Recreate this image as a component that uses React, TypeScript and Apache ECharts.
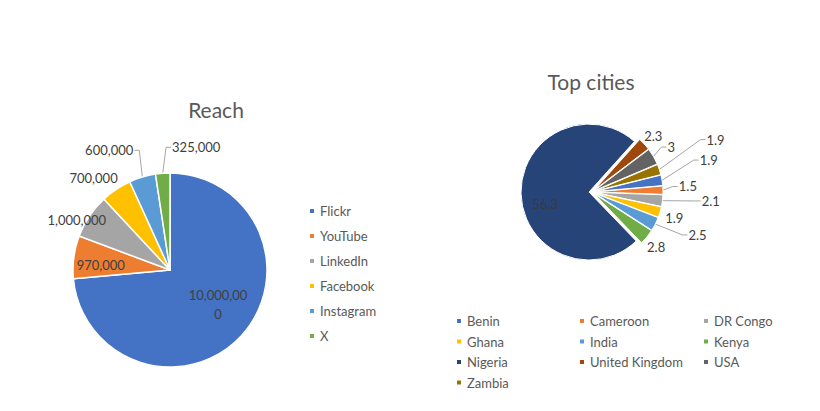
import React, { useEffect, useRef } from "react";
import * as echarts from "echarts";

const reachNames = ["Flickr", "YouTube", "LinkedIn", "Facebook", "Instagram", "X"];
const reachValues = [10000000, 970000, 1000000, 700000, 600000, 325000];
const reachColors = ["#4472C4", "#ED7D31", "#A5A5A5", "#FFC000", "#5B9BD5", "#70AD47"];

const cityNames = ["Benin", "Cameroon", "DR Congo", "Ghana", "India", "Kenya", "Nigeria", "United Kingdom", "USA", "Zambia"];
const cityValues = [1.9, 1.5, 2.1, 1.9, 2.5, 2.8, 56.3, 2.3, 3, 1.9];
const cityColors = ["#4472C4", "#ED7D31", "#A5A5A5", "#FFC000", "#5B9BD5", "#70AD47", "#264478", "#9E480E", "#636363", "#997300"];

const legendCol1 = ["Benin", "Ghana", "Nigeria", "Zambia"];
const legendCol2 = ["Cameroon", "India", "United Kingdom"];
const legendCol3 = ["DR Congo", "Kenya", "USA"];

// label nudges (Excel "best fit" placement) relative to ECharts' default positions
const reachNudge = [[10, 0], [61, 9], [26, 7], [25, -19], [22, -32], [67, -20]];
const reachLine = [false, false, false, false, true, true];
const cityNudge = [[23, -25], [2, -14], [26, -15], [-8, -13], [19, -12], [-17, -15], [-7, 11], [-17, -3], [-2, -7], [32, -30]];
const cityLine = [true, true, true, false, true, false, false, false, true, true];

const FONT = "Lato, 'Open Sans', sans-serif";
const TXT = "#595959";
const LBL = "#404040";

const fmt = (v: number) => v.toLocaleString("en-US");
const wrap = (s: string, n: number) => (s.length > n ? s.slice(0, n) + "\n" + s.slice(n) : s);

const makeLayout = (nudge: number[][]) => (p: any) => {
  const [dx, dy] = nudge[p.dataIndex];
  const out: any = { dx, dy };
  const pts = p.labelLinePoints;
  const r = p.labelRect;
  if (pts && pts.length && r) {
    const a = pts[0];
    const nx = r.x + dx;
    const ny = r.y + dy;
    const cy = ny + r.height / 2;
    const toRight = nx + r.width / 2 > a[0];
    const end = toRight ? [nx - 1, cy] : [nx + r.width + 1, cy];
    const mid = toRight ? [end[0] - 5, cy] : [end[0] + 5, cy];
    out.labelLinePoints = [a, mid, end];
  }
  return out;
};

export default function App() {
  const ref = useRef<HTMLDivElement>(null);
  useEffect(() => {
    if (!ref.current) return;
    const chart = echarts.init(ref.current, undefined, { renderer: "svg" });
    const legendBase = {
      orient: "vertical" as const,
      icon: "rect",
      itemWidth: 6,
      itemHeight: 6,
      selectedMode: false,
      textStyle: { fontFamily: FONT, fontSize: 13, color: TXT, lineHeight: 14 },
    };
    chart.setOption({
      animation: false,
      backgroundColor: "#ffffff",
      title: [
        { text: "Reach", left: 211, top: 94, textAlign: "center", textStyle: { fontFamily: FONT, fontSize: 21, fontWeight: "normal", color: TXT } },
        { text: "Top cities", left: 586, top: 66, textAlign: "center", textStyle: { fontFamily: FONT, fontSize: 21, fontWeight: "normal", color: TXT } },
      ],
      legend: [
        { ...legendBase, left: 303, top: 199, itemGap: 11, data: reachNames },
        { ...legendBase, left: 450, top: 309, itemGap: 6.5, data: legendCol1 },
        { ...legendBase, left: 573, top: 309, itemGap: 6.5, data: legendCol2 },
        { ...legendBase, left: 697, top: 309, itemGap: 6.5, data: legendCol3 },
      ],
      series: [
        {
          type: "pie",
          center: [170, 270],
          radius: 97,
          startAngle: 90,
          clockwise: true,
          itemStyle: { borderColor: "#fff", borderWidth: 1.5 },
          label: {
            show: true,
            position: "outside",
            fontFamily: FONT,
            fontSize: 13,
            color: LBL,
            formatter: (p: any) => fmt(p.value),
          },
          labelLine: { show: true, length: 6, length2: 4, lineStyle: { color: "#A6A6A6", width: 1 } },
          labelLayout: makeLayout(reachNudge),
          data: reachNames.map((n, i) => ({
            name: n,
            value: reachValues[i],
            itemStyle: { color: reachColors[i] },
            labelLine: { show: reachLine[i] },
            ...(i === 0
              ? { label: { position: "inside", formatter: (p: any) => wrap(fmt(p.value), 9), align: "center", lineHeight: 19 } }
              : {}),
          })),
        },
        {
          type: "pie",
          center: [592, 192],
          radius: 68,
          startAngle: 14,
          clockwise: true,
          selectedMode: "multiple",
          selectedOffset: 3,
          itemStyle: { borderColor: "#fff", borderWidth: 1 },
          label: {
            show: true,
            position: "outside",
            fontFamily: FONT,
            fontSize: 13,
            color: LBL,
            formatter: (p: any) => String(p.value),
          },
          labelLine: { show: true, length: 8, length2: 6, lineStyle: { color: "#A6A6A6", width: 1 } },
          labelLayout: makeLayout(cityNudge),
          data: cityNames.map((n, i) => ({
            name: n,
            value: cityValues[i],
            selected: true,
            itemStyle: { color: cityColors[i] },
            labelLine: { show: cityLine[i] },
            ...(n === "Nigeria" ? { label: { position: "inside", color: "#3a3a3a" } } : {}),
          })),
        },
      ],
    });
    return () => chart.dispose();
  }, []);
  return <div ref={ref} style={{ position: "fixed", left: 0, top: 0, width: 820, height: 411 }} />;
}
